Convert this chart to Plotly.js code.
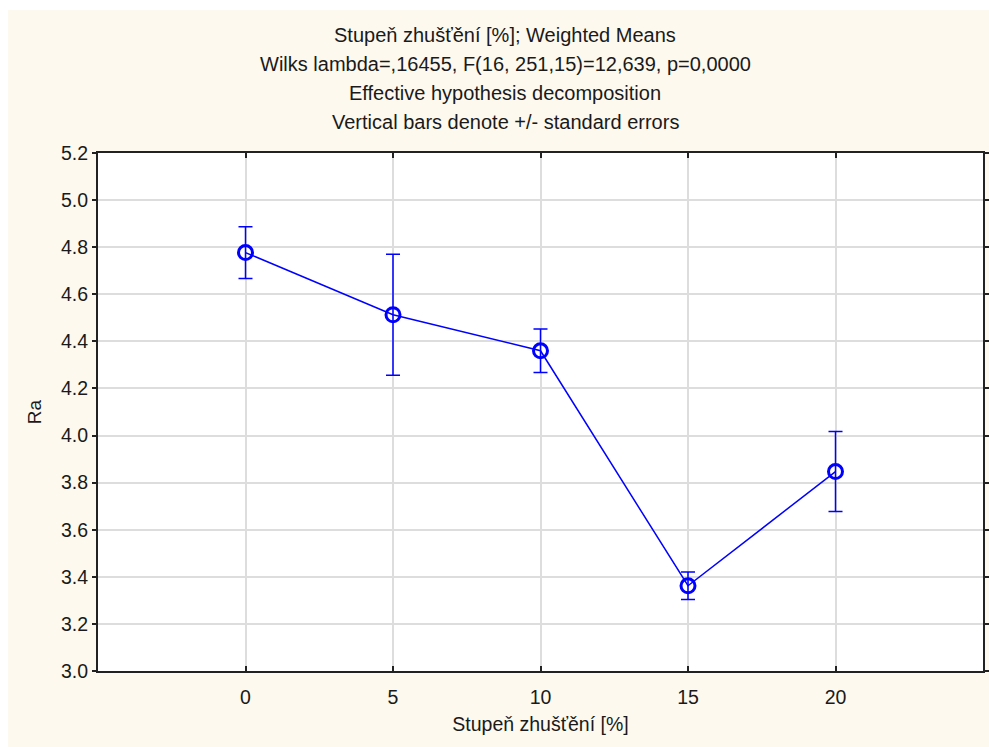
<!DOCTYPE html>
<html>
<head>
<meta charset="utf-8">
<script src="https://cdn.plot.ly/plotly-3.0.1.min.js"></script>
<style>
html,body{margin:0;padding:0;background:#ffffff;}
#plot{position:absolute;left:8px;top:10px;width:981px;height:737px;}
</style>
</head>
<body>
<div id="plot"></div>
<script>
// Data
var categories = [0, 5, 10, 15, 20];
var means = [4.777, 4.513, 4.360, 3.362, 3.847];
var stdErrors = [0.110, 0.257, 0.092, 0.058, 0.170];
var yTicks = [3.0, 3.2, 3.4, 3.6, 3.8, 4.0, 4.2, 4.4, 4.6, 4.8, 5.0, 5.2];
var titleLines = [
  "Stupeň zhušťění [%]; Weighted Means",
  "Wilks lambda=,16455, F(16, 251,15)=12,639, p=0,0000",
  "Effective hypothesis decomposition",
  "Vertical bars denote +/- standard errors"
];
var xTitle = "Stupeň zhušťění [%]";
var yTitle = "Ra";

var trace = {
  x: categories,
  y: means,
  type: 'scatter',
  mode: 'lines+markers',
  line: {color: '#0000ff', width: 1.5},
  marker: {symbol: 'circle-open', size: 14, color: '#0000ff', line: {width: 3, color: '#0000ff'}},
  error_y: {type: 'data', array: stdErrors, visible: true, color: '#0000ff', thickness: 1.5, width: 7},
  hoverinfo: 'x+y'
};

var fontFam = '"Liberation Sans", Arial, sans-serif';
var titleY = [35, 64, 93, 122]; // page pixel centers
var annotations = titleLines.map(function(t, i){
  return {
    text: t, xref: 'paper', yref: 'paper',
    x: (505 - 98) / 885, y: 1 + ((153 - titleY[i]) / 518),
    xanchor: 'center', yanchor: 'middle', showarrow: false,
    font: {family: fontFam, size: 20, color: '#1a1a1a'}
  };
});

var layout = {
  width: 981, height: 737,
  paper_bgcolor: '#fdf9ef',
  plot_bgcolor: '#ffffff',
  margin: {l: 90, r: 6, t: 143, b: 76},
  showlegend: false,
  font: {family: fontFam, size: 19, color: '#222222'},
  xaxis: {
    range: [-5, 25],
    tickvals: categories,
    ticktext: categories.map(String),
    showgrid: true, gridcolor: '#dddddd', gridwidth: 2,
    zeroline: false,
    showline: true, linecolor: '#222222', linewidth: 2, mirror: 'ticks',
    ticks: 'inside', ticklen: 5, tickcolor: '#222222', tickwidth: 2,
    ticklabelstandoff: 8,
    tickfont: {family: fontFam, size: 19.5, color: '#1a1a1a'},
    title: {text: xTitle, font: {family: fontFam, size: 19.5, color: '#1a1a1a'}, standoff: 10}
  },
  yaxis: {
    range: [3.0, 5.2],
    tickvals: yTicks,
    ticktext: yTicks.map(function(v){ return v.toFixed(1); }),
    showgrid: true, gridcolor: '#dddddd', gridwidth: 2,
    zeroline: false,
    showline: true, linecolor: '#222222', linewidth: 2, mirror: 'ticks',
    ticks: 'outside', ticklen: 4, tickcolor: '#222222', tickwidth: 2,
    tickfont: {family: fontFam, size: 19.5, color: '#1a1a1a'},
    title: {text: yTitle, font: {family: fontFam, size: 19, color: '#1a1a1a'}, standoff: 14}
  },
  annotations: annotations
};

Plotly.newPlot('plot', [trace], layout, {displayModeBar: false});
</script>
</body>
</html>
